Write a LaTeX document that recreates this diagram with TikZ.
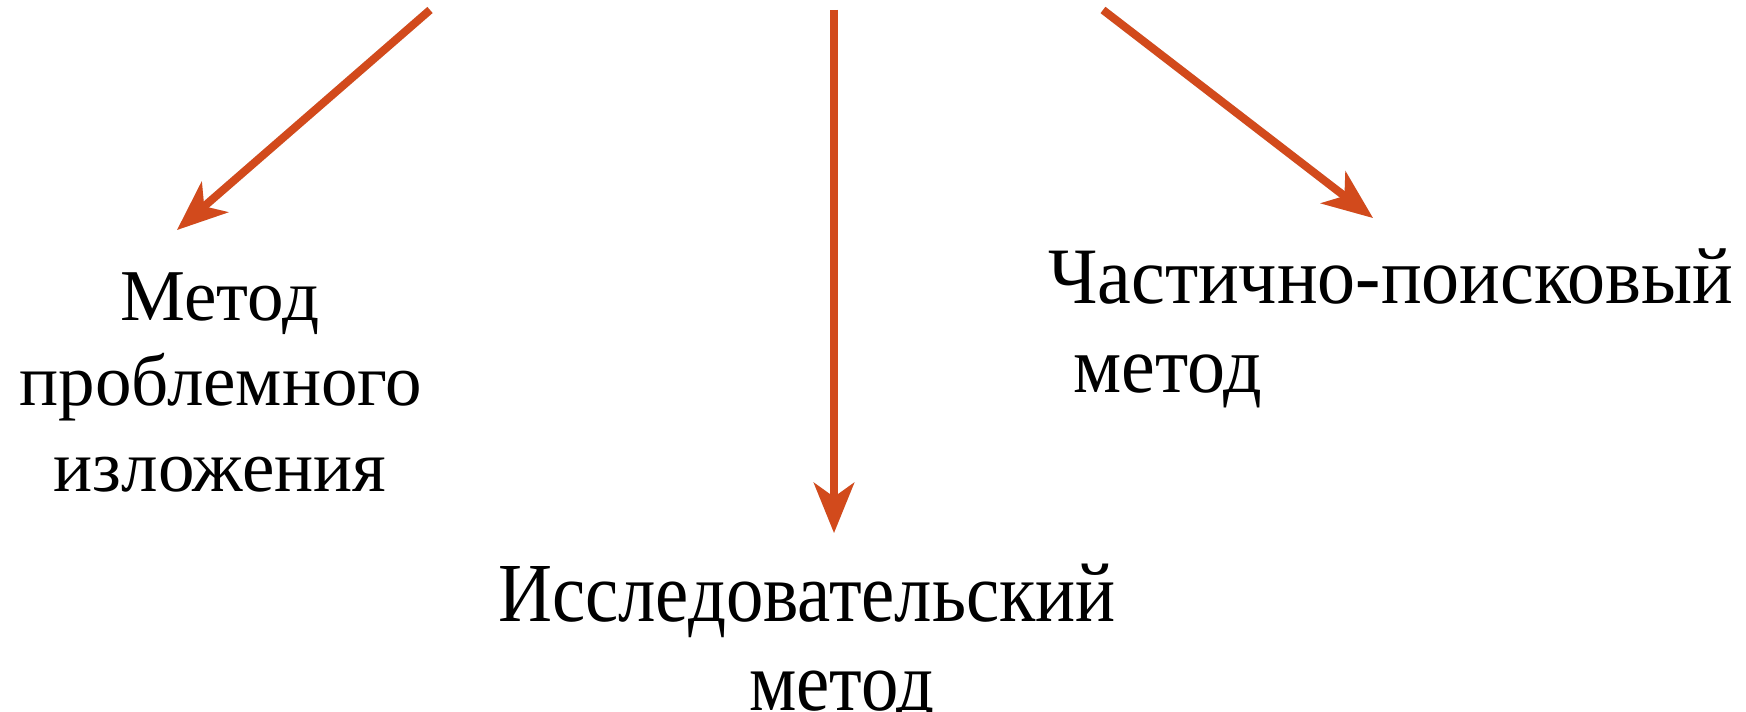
\documentclass[tikz,border=0pt]{standalone}
\usepackage{fontspec}
\setmainfont{Liberation Serif}
\usetikzlibrary{arrows.meta}
\definecolor{arr}{RGB}{210,74,28}
\tikzset{
  conn/.style={draw=arr, line width=8bp, -{Stealth[length=50bp,width=40bp,inset=14bp]}},
  shad/.style={draw=black!12, line width=8bp, -{Stealth[length=50bp,width=40bp,inset=14bp]}},
  lbl/.style={inner sep=0pt, text=black},
  lblL/.style={lbl, font=\fontsize{73bp}{88bp}\selectfont, anchor=base},
  lblR/.style={lbl, font=\fontsize{80bp}{96bp}\selectfont, anchor=base west, xscale=0.95},
  lblM/.style={lbl, font=\fontsize{84bp}{100bp}\selectfont, anchor=base west, xscale=0.89},
}
\begin{document}
\begin{tikzpicture}[x=1bp,y=-1bp]
\path[use as bounding box, fill=white] (0,0) rectangle (1746,712);
% arrow endpoints
\coordinate (a0) at (430,10);
\coordinate (a1) at (177,230);
\coordinate (b0) at (834,10);
\coordinate (b1) at (834,533);
\coordinate (c0) at (1103,10);
\coordinate (c1) at (1373,218);
% shadows
\begin{scope}[shift={(3,4)}]
\draw[shad] (a0) -- (a1);
\draw[shad] (b0) -- (b1);
\draw[shad] (c0) -- (c1);
\end{scope}
\draw[conn] (a0) -- (a1);
\draw[conn] (b0) -- (b1);
\draw[conn] (c0) -- (c1);
% left label
\node[lblL] (l1) at (220,320) {Метод};
\node[lblL] (l2) at (221,405) {проблемного};
\node[lblL] (l3) at (220,491) {изложения};
% right label
\node[lblR] (r1) at (1048,303) {Частично-поисковый};
\node[lblR] (r2) at (1073,392) {метод};
% bottom label
\node[lblM] (m1) at (498,621) {Исследовательский};
\node[lblM] (m2) at (749,710) {метод};
\end{tikzpicture}
\end{document}
